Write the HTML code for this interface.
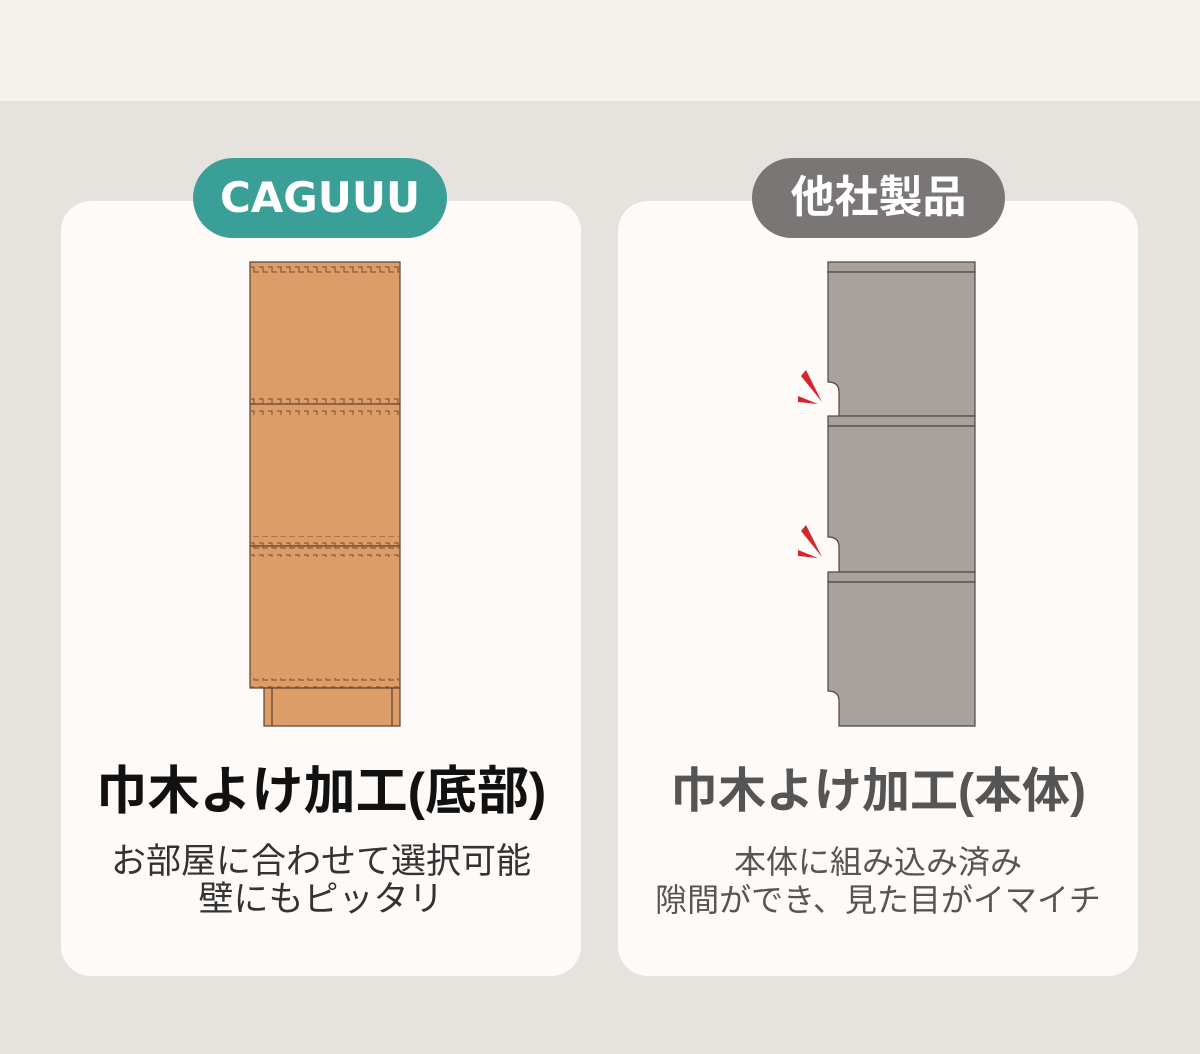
<!DOCTYPE html>
<html><head><meta charset="utf-8"><style>
body{margin:0;width:1200px;height:1054px;background:#e6e2de;position:relative;overflow:hidden;font-family:"Liberation Sans","Noto Sans CJK JP",sans-serif}
.top{position:absolute;left:0;top:0;width:1200px;height:101px;background:#f5f2ec}
.card{position:absolute;top:201px;width:520px;height:775px;background:#fdfaf8;border-radius:30px}
.pill{position:absolute;top:158px;height:80px;border-radius:40px;color:#fff;font-weight:bold;font-size:44px;text-align:center;line-height:80px}
.h{position:absolute;width:520px;text-align:center;font-weight:bold;line-height:60px;top:762px;white-space:nowrap}
.s{position:absolute;width:520px;text-align:center;font-size:32px;line-height:38px;top:843px;color:#333;white-space:nowrap}
</style></head><body>
<div class="top"></div>
<div class="card" style="left:61px"></div>
<div class="card" style="left:618px"></div>
<div class="pill" style="left:193px;width:254px;background:#3a9f96;font-family:'DejaVu Sans',sans-serif;font-size:42px">CAGUUU</div>
<div class="pill" style="left:752px;width:253px;background:#7a7676">他社製品</div>
<div class="h" style="left:61px;color:#111;font-size:52px">巾木よけ加工(底部)</div>
<div class="h" style="left:618px;color:#555;font-size:48px">巾木よけ加工(本体)</div>
<div class="s" style="left:61px;font-size:35px">お部屋に合わせて選択可能<br>壁にもピッタリ</div>
<div class="s" style="left:618px;color:#555">本体に組み込み済み<br>隙間ができ、見た目がイマイチ</div>
<svg style="position:absolute;left:0;top:0" width="1200" height="1054">
<defs><pattern id="z" x="250" y="0" width="9" height="12" patternUnits="userSpaceOnUse"><path d="M-1 3H4V8H10" fill="none" stroke="#8a5a35" stroke-width="1.2"/></pattern></defs>
<g stroke="#5a4030" stroke-width="1.2" fill="#dc9d68">
<rect x="250" y="262" width="150" height="142"/>
<rect x="250" y="404" width="150" height="142"/>
<rect x="250" y="546" width="150" height="142"/>
<rect x="264" y="688" width="136" height="38"/>
<line x1="272" y1="688" x2="272" y2="726"/><line x1="392" y1="688" x2="392" y2="726"/>
</g>
<g fill="url(#z)">
<rect x="251" y="263" width="148" height="10"/>
<rect x="251" y="394" width="148" height="10"/>
<rect x="251" y="405" width="148" height="10"/><rect x="251" y="536" width="148" height="10"/>
<rect x="251" y="547" width="148" height="10"/><rect x="251" y="678" width="148" height="10"/>
</g>
<g fill="#a9a29c" stroke="#4a4745" stroke-width="1.2">
<rect x="828" y="262" width="147" height="10"/>
<path d="M828 272H975V416H839V392Q839 382 828 382Z"/>
<rect x="828" y="416" width="147" height="10"/>
<path d="M828 426H975V572H839V547Q839 537 828 537Z"/>
<rect x="828" y="572" width="147" height="10"/>
<path d="M828 582H975V726H839V701Q839 691 828 691Z"/>
</g>
<g fill="#d4262c">
<path d="M801 376L806 370L822 402Z"/><path d="M798 396L798 402L818 404Z"/>
<path d="M801 531L806 525L822 557Z"/><path d="M798 550L798 556L818 558Z"/>
</g>
</svg>
</body></html>
